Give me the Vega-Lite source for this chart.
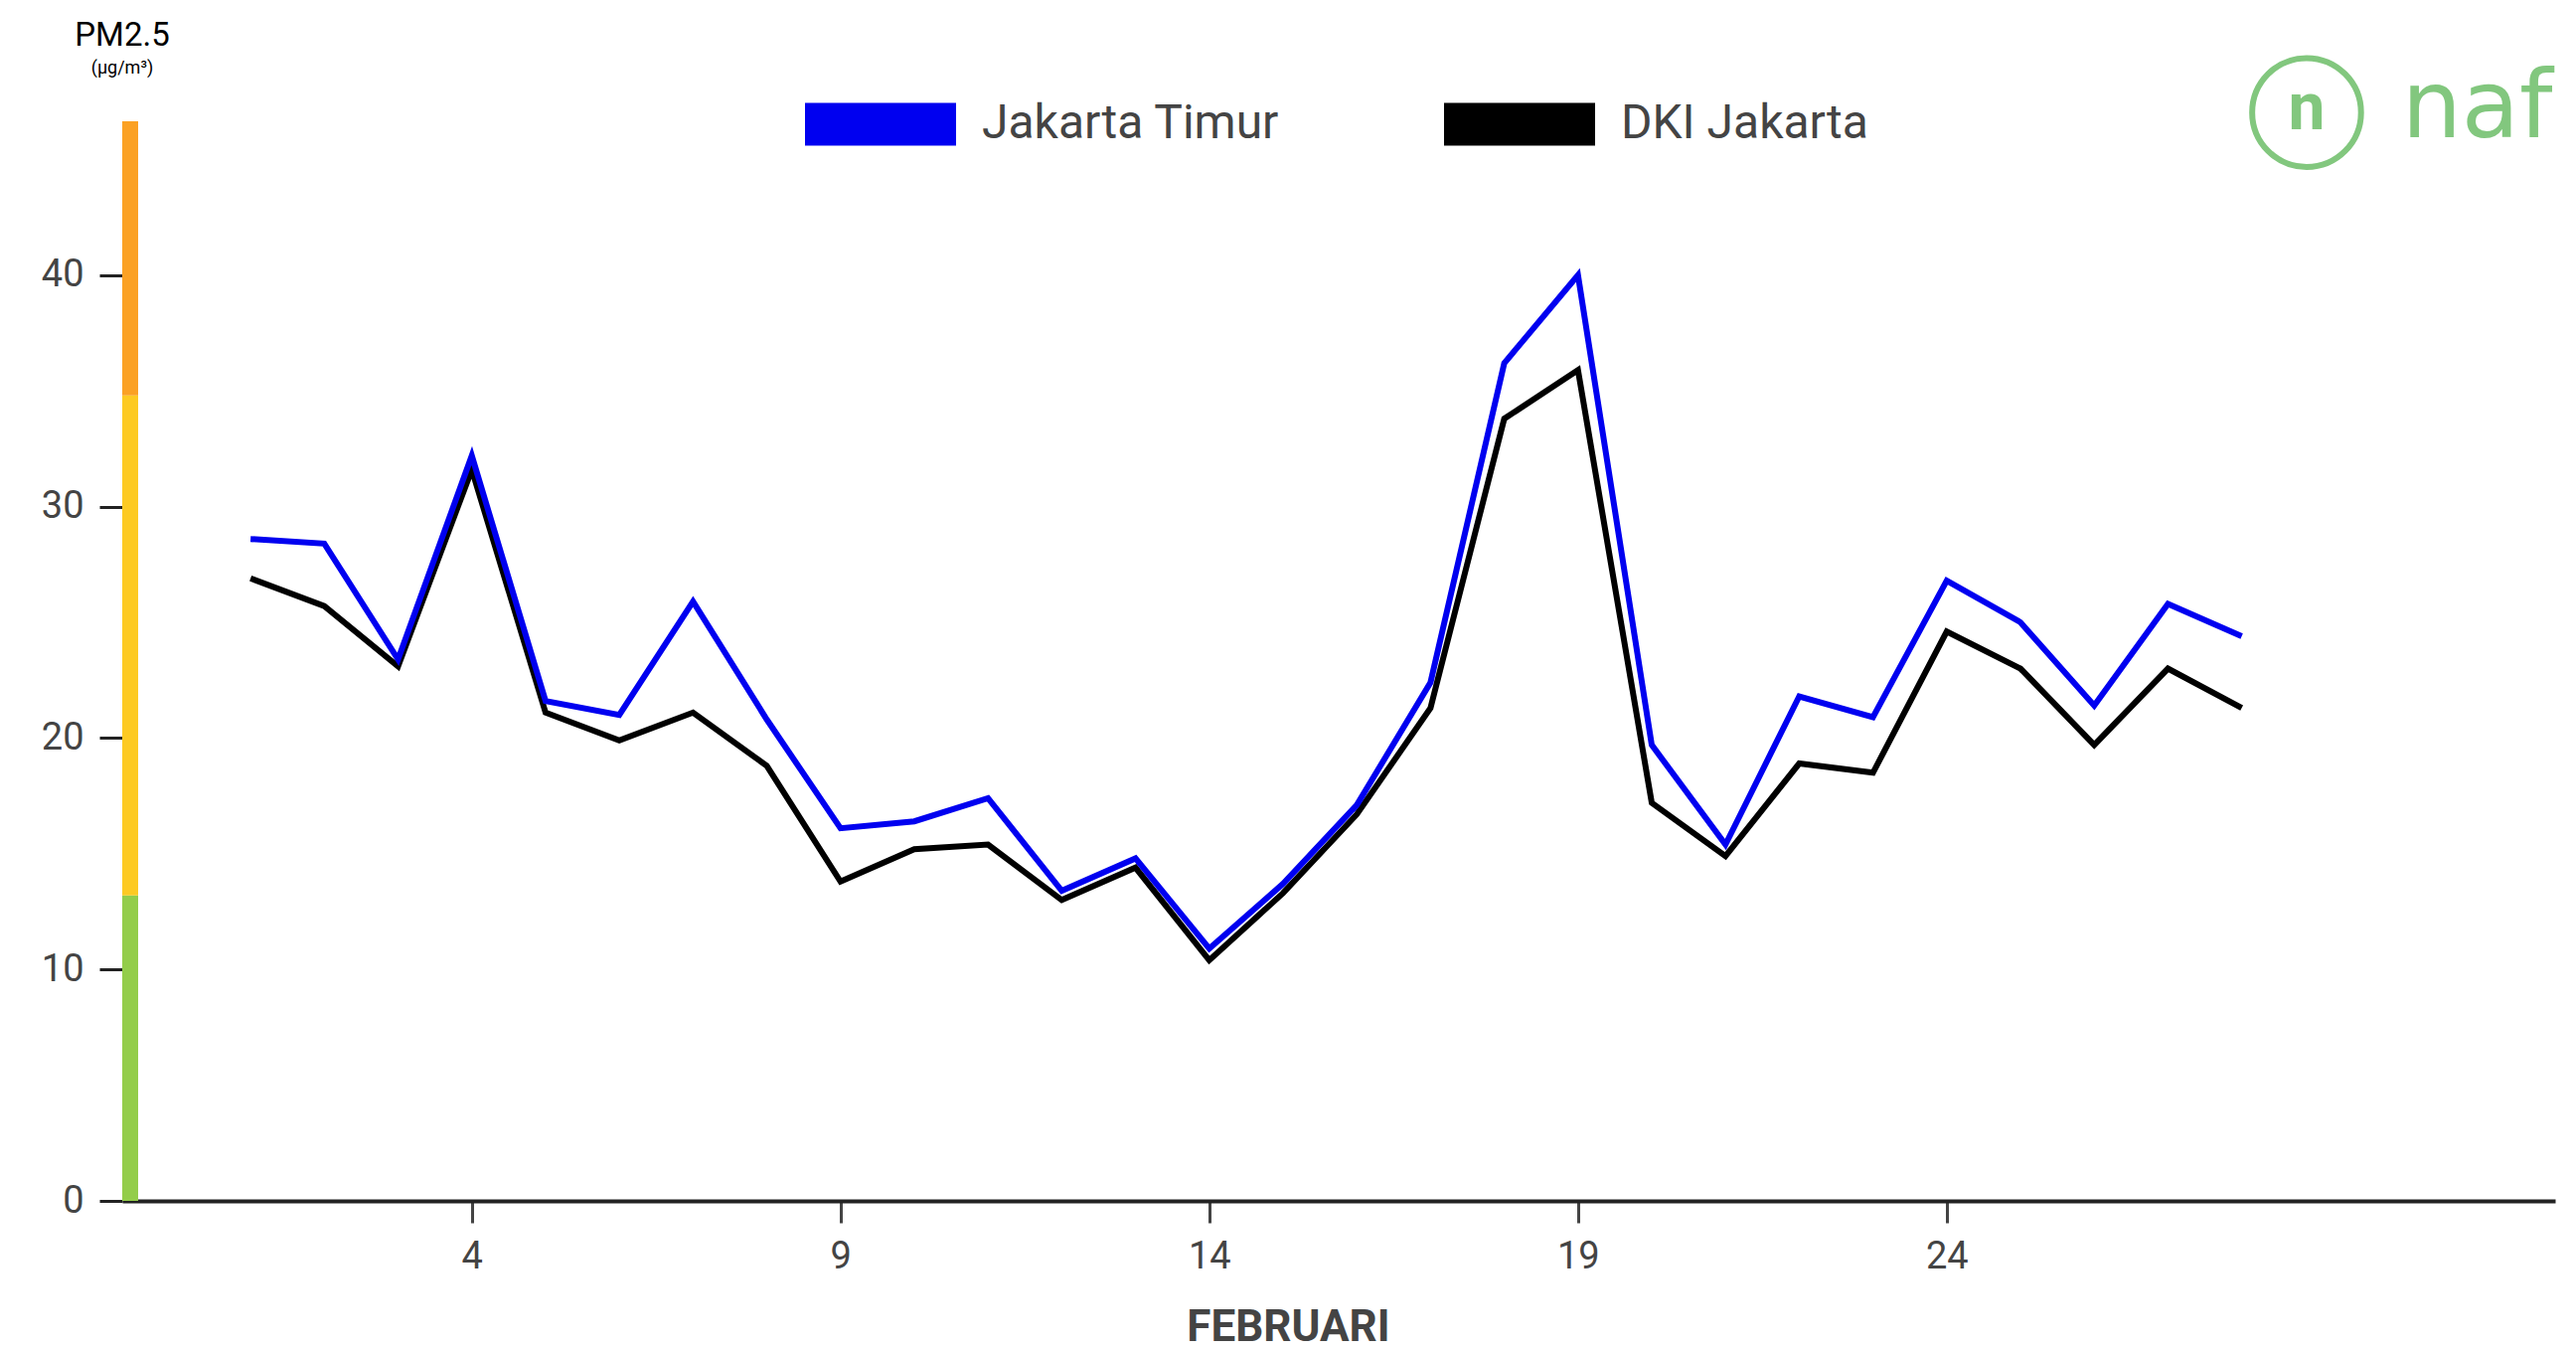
{
  "$schema": "https://vega.github.io/schema/vega-lite/v6.json",
  "width": 2448,
  "height": 1086,
  "autosize": {"type": "none"},
  "padding": {"left": 123, "top": 122, "right": 21, "bottom": 150},
  "background": "white",
  "config": {"view": {"stroke": null}, "font": "Roboto"},
  "title": {
    "text": "PM2.5",
    "subtitle": "(µg/m³)",
    "anchor": "start",
    "align": "center",
    "frame": "group",
    "fontSize": 33,
    "fontWeight": "normal",
    "color": "#000000",
    "subtitleFontSize": 18,
    "subtitleColor": "#000000",
    "subtitlePadding": 7,
    "offset": -32
  },
  "layer": [
    {
      "data": {"values": [
        {"level": "Baik", "lo": 0, "hi": 13.2},
        {"level": "Sedang", "lo": 13.2, "hi": 34.8},
        {"level": "Tidak Sehat", "lo": 34.8, "hi": 46.65}
      ]},
      "mark": {"type": "rect"},
      "encoding": {
        "y": {
          "field": "lo", "type": "quantitative",
          "scale": {"domain": [0, 46.65], "nice": false, "zero": true},
          "axis": {
            "values": [0, 10, 20, 30, 40],
            "title": null,
            "domain": false, "grid": false,
            "tickSize": 23, "tickWidth": 3, "tickColor": "#222222",
            "labelFontSize": 38, "labelColor": "#444444", "labelPadding": 16
          }
        },
        "y2": {"field": "hi"},
        "x": {"value": 0},
        "x2": {"value": 16},
        "fill": {"field": "level", "type": "nominal", "scale": {"domain": ["Baik", "Sedang", "Tidak Sehat"], "range": ["#93CD4A", "#FDCA22", "#FBA124"]}, "legend": null}
      }
    },
    {
      "data": {"values": [
        {"day": 1, "series": "DKI Jakarta", "pm25": 26.9},
        {"day": 2, "series": "DKI Jakarta", "pm25": 25.7},
        {"day": 3, "series": "DKI Jakarta", "pm25": 23.1},
        {"day": 4, "series": "DKI Jakarta", "pm25": 31.6},
        {"day": 5, "series": "DKI Jakarta", "pm25": 21.1},
        {"day": 6, "series": "DKI Jakarta", "pm25": 19.9},
        {"day": 7, "series": "DKI Jakarta", "pm25": 21.1},
        {"day": 8, "series": "DKI Jakarta", "pm25": 18.8},
        {"day": 9, "series": "DKI Jakarta", "pm25": 13.8},
        {"day": 10, "series": "DKI Jakarta", "pm25": 15.2},
        {"day": 11, "series": "DKI Jakarta", "pm25": 15.4},
        {"day": 12, "series": "DKI Jakarta", "pm25": 13.0},
        {"day": 13, "series": "DKI Jakarta", "pm25": 14.4},
        {"day": 14, "series": "DKI Jakarta", "pm25": 10.4},
        {"day": 15, "series": "DKI Jakarta", "pm25": 13.3},
        {"day": 16, "series": "DKI Jakarta", "pm25": 16.7},
        {"day": 17, "series": "DKI Jakarta", "pm25": 21.3},
        {"day": 18, "series": "DKI Jakarta", "pm25": 33.8},
        {"day": 19, "series": "DKI Jakarta", "pm25": 35.9},
        {"day": 20, "series": "DKI Jakarta", "pm25": 17.2},
        {"day": 21, "series": "DKI Jakarta", "pm25": 14.9},
        {"day": 22, "series": "DKI Jakarta", "pm25": 18.9},
        {"day": 23, "series": "DKI Jakarta", "pm25": 18.5},
        {"day": 24, "series": "DKI Jakarta", "pm25": 24.6},
        {"day": 25, "series": "DKI Jakarta", "pm25": 23.0},
        {"day": 26, "series": "DKI Jakarta", "pm25": 19.7},
        {"day": 27, "series": "DKI Jakarta", "pm25": 23.0},
        {"day": 28, "series": "DKI Jakarta", "pm25": 21.3},
        {"day": 1, "series": "Jakarta Timur", "pm25": 28.6},
        {"day": 2, "series": "Jakarta Timur", "pm25": 28.4},
        {"day": 3, "series": "Jakarta Timur", "pm25": 23.4},
        {"day": 4, "series": "Jakarta Timur", "pm25": 32.2},
        {"day": 5, "series": "Jakarta Timur", "pm25": 21.6},
        {"day": 6, "series": "Jakarta Timur", "pm25": 21.0},
        {"day": 7, "series": "Jakarta Timur", "pm25": 25.9},
        {"day": 8, "series": "Jakarta Timur", "pm25": 20.8},
        {"day": 9, "series": "Jakarta Timur", "pm25": 16.1},
        {"day": 10, "series": "Jakarta Timur", "pm25": 16.4},
        {"day": 11, "series": "Jakarta Timur", "pm25": 17.4},
        {"day": 12, "series": "Jakarta Timur", "pm25": 13.4},
        {"day": 13, "series": "Jakarta Timur", "pm25": 14.8},
        {"day": 14, "series": "Jakarta Timur", "pm25": 10.9},
        {"day": 15, "series": "Jakarta Timur", "pm25": 13.7},
        {"day": 16, "series": "Jakarta Timur", "pm25": 17.1},
        {"day": 17, "series": "Jakarta Timur", "pm25": 22.4},
        {"day": 18, "series": "Jakarta Timur", "pm25": 36.2},
        {"day": 19, "series": "Jakarta Timur", "pm25": 40.0},
        {"day": 20, "series": "Jakarta Timur", "pm25": 19.7},
        {"day": 21, "series": "Jakarta Timur", "pm25": 15.4},
        {"day": 22, "series": "Jakarta Timur", "pm25": 21.8},
        {"day": 23, "series": "Jakarta Timur", "pm25": 20.9},
        {"day": 24, "series": "Jakarta Timur", "pm25": 26.8},
        {"day": 25, "series": "Jakarta Timur", "pm25": 25.0},
        {"day": 26, "series": "Jakarta Timur", "pm25": 21.4},
        {"day": 27, "series": "Jakarta Timur", "pm25": 25.8},
        {"day": 28, "series": "Jakarta Timur", "pm25": 24.4}
      ]},
      "mark": {"type": "line", "strokeWidth": 6, "strokeJoin": "miter"},
      "encoding": {
        "x": {
          "field": "day", "type": "quantitative",
          "scale": {"domain": [-0.74, 32.25], "nice": false, "zero": false},
          "axis": {
            "values": [4, 9, 14, 19, 24],
            "format": "d",
            "title": "FEBRUARI",
            "titleFontSize": 44, "titleFontWeight": "bold", "titleColor": "#444444",
            "titleX": 1173, "titleY": 140, "titleBaseline": "alphabetic",
            "grid": false,
            "domainColor": "#222222", "domainWidth": 4,
            "tickSize": 22, "tickWidth": 3, "tickColor": "#444444",
            "labelFontSize": 38, "labelColor": "#444444", "labelPadding": 15
          }
        },
        "y": {
          "field": "pm25", "type": "quantitative",
          "axis": {
            "values": [0, 10, 20, 30, 40],
            "title": null,
            "domain": false, "grid": false,
            "tickSize": 23, "tickWidth": 3, "tickColor": "#222222",
            "labelFontSize": 38, "labelColor": "#444444", "labelPadding": 16
          }
        },
        "color": {
          "field": "series", "type": "nominal",
          "scale": {"domain": ["Jakarta Timur", "DKI Jakarta"], "range": ["#0000F0", "#000000"]},
          "legend": {
            "orient": "none", "legendX": 687, "legendY": -73,
            "direction": "horizontal", "columns": 2, "columnPadding": 165,
            "title": null,
            "symbolType": "M-1,-0.283H1V0.283H-1Z",
            "symbolSize": 23104, "symbolStrokeWidth": 0,
            "labelFontSize": 48, "labelColor": "#444444", "labelOffset": 26, "labelLimit": 0,
            "encode": {"symbols": {"update": {"fill": {"scale": "color", "field": "value"}, "fillOpacity": {"value": 1}, "opacity": {"value": 1}}}}
          }
        }
      }
    },
    {
      "data": {"values": [{"brand": "naf", "icon": "n"}]},
      "layer": [
        {
          "mark": {"type": "point", "shape": "circle", "filled": false, "stroke": "#82C77E", "strokeWidth": 6, "size": 12000, "opacity": 1},
          "encoding": {
            "x": {"datum": 28.88, "type": "quantitative"},
            "y": {"datum": 47.03, "type": "quantitative"}
          }
        },
        {
          "mark": {"type": "text", "fontSize": 66, "fontWeight": "bold", "color": "#82C77E", "baseline": "alphabetic", "align": "center"},
          "encoding": {
            "x": {"datum": 28.88, "type": "quantitative"},
            "y": {"datum": 46.3, "type": "quantitative"},
            "text": {"field": "icon"}
          }
        },
        {
          "mark": {"type": "text", "fontSize": 95, "font": "DejaVu Sans", "color": "#82C77E", "baseline": "alphabetic", "align": "left"},
          "encoding": {
            "x": {"datum": 30.17, "type": "quantitative"},
            "y": {"datum": 45.96, "type": "quantitative"},
            "text": {"field": "brand"}
          }
        }
      ]
    }
  ]
}
